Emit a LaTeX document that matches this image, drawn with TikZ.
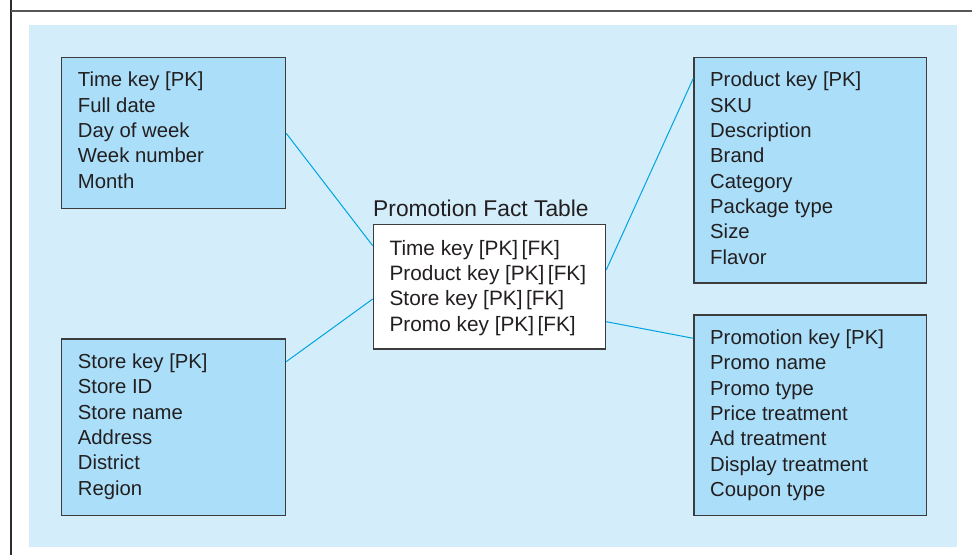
\documentclass[tikz,border=0pt]{standalone}
\usepackage{fontspec}
\setmainfont{Liberation Sans}
\definecolor{bgblue}{RGB}{211,238,250}
\definecolor{boxblue}{RGB}{170,222,249}
\definecolor{linkblue}{RGB}{0,163,226}
\definecolor{edgegray}{RGB}{60,60,60}
\definecolor{textgray}{RGB}{35,31,32}
\definecolor{framegray}{RGB}{45,45,45}
\begin{document}
\begin{tikzpicture}[x=1pt,y=-1pt,
  dimbox/.style={draw=edgegray, line width=1.2pt, fill=boxblue, anchor=north west, inner sep=0pt},
  factbox/.style={draw=edgegray, line width=1.2pt, fill=white, anchor=north west, inner sep=0pt},
  txt/.style={anchor=north west, inner sep=0pt, align=left, text=textgray,
    font=\fontsize{20.3}{25.3}\selectfont},
  link/.style={draw=linkblue, line width=1pt}]
\useasboundingbox (0,0) rectangle (972,555);
% frame
\draw[framegray, line width=2pt] (11,0) -- (11,555);
\draw[framegray!80, line width=1.8pt] (11,10.7) -- (972,10.7);
% background
\fill[bgblue] (29,25) rectangle (957,547);
% boxes
\node[dimbox, minimum width=224pt, minimum height=151pt] (time) at (61,56.7) {};
\node[dimbox, minimum width=224pt, minimum height=176.7pt] (store) at (61,338.3) {};
\node[dimbox, minimum width=232.4pt, minimum height=225.6pt] (product) at (693.3,56.7) {};
\node[dimbox, minimum width=232.4pt, minimum height=200.7pt] (promo) at (693.3,314.3) {};
\node[factbox, minimum width=232.3pt, minimum height=124.3pt] (fact) at (372.7,224) {};
% texts
\node[txt] (timetxt) at ([xshift=16.7pt,yshift=-14pt]time.north west)
  {\rule{0pt}{16pt}Time key [PK]\\Full date\\Day of week\\Week number\\Month};
\node[txt] (storetxt) at ([xshift=16.7pt,yshift=-14pt]store.north west)
  {\rule{0pt}{16pt}Store key [PK]\\Store ID\\Store name\\Address\\District\\Region};
\node[txt] (producttxt) at ([xshift=16.7pt,yshift=-14pt]product.north west)
  {\rule{0pt}{16pt}Product key [PK]\\SKU\\Description\\Brand\\Category\\Package type\\Size\\Flavor};
\node[txt] (promotxt) at ([xshift=16.7pt,yshift=-14pt]promo.north west)
  {\rule{0pt}{16pt}Promotion key [PK]\\Promo name\\Promo type\\Price treatment\\Ad treatment\\Display treatment\\Coupon type};
\node[txt, font=\fontsize{20.8}{25.3}\selectfont] (facttxt) at ([xshift=16.7pt,yshift=-15pt]fact.north west)
  {\rule{0pt}{16pt}Time key [PK]\,[FK]\\Product key [PK]\,[FK]\\Store key [PK]\,[FK]\\Promo key [PK]\,[FK]};
\node[anchor=base west, inner sep=0pt, text=textgray, font=\fontsize{22.8}{27}\selectfont]
  (title) at (373,216.7) {Promotion Fact Table};
% connectors
\draw[link] ([yshift=-76.6pt]time.north east) -- ([yshift=-21.7pt]fact.north west);
\draw[link] ([yshift=-23.4pt]store.north east) -- ([yshift=-75pt]fact.north west);
\draw[link] ([yshift=-46pt]fact.north east) -- ([yshift=-21.6pt]product.north west);
\draw[link] ([yshift=-97.7pt]fact.north east) -- ([yshift=-24pt]promo.north west);
\end{tikzpicture}
\end{document}
